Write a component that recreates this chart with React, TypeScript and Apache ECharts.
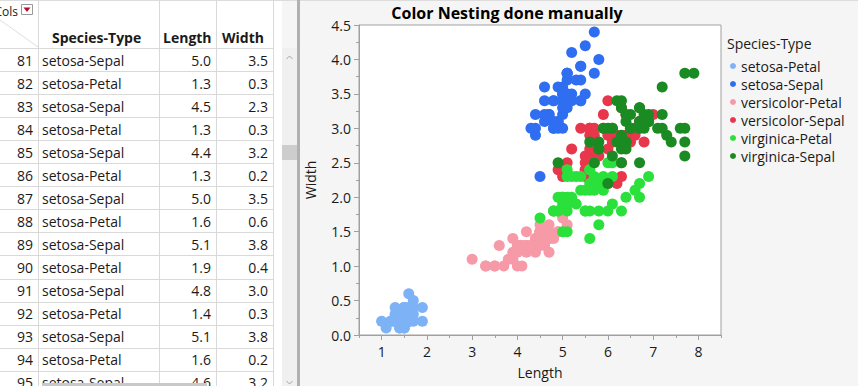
import React, { useEffect, useRef } from "react";
import * as echarts from "echarts";

// ---------- data ----------
const seriesNames = [
  "setosa-Petal",
  "setosa-Sepal",
  "versicolor-Petal",
  "versicolor-Sepal",
  "virginica-Petal",
  "virginica-Sepal",
];

const setosaPetal = [[1.4,0.2],[1.4,0.2],[1.3,0.2],[1.5,0.2],[1.4,0.2],[1.7,0.4],[1.4,0.3],[1.5,0.2],[1.4,0.2],[1.5,0.1],[1.5,0.2],[1.6,0.2],[1.4,0.1],[1.1,0.1],[1.2,0.2],[1.5,0.4],[1.3,0.4],[1.4,0.3],[1.7,0.3],[1.5,0.3],[1.7,0.2],[1.5,0.4],[1.0,0.2],[1.7,0.5],[1.9,0.2],[1.6,0.2],[1.6,0.4],[1.5,0.2],[1.4,0.2],[1.6,0.2],[1.6,0.2],[1.5,0.4],[1.5,0.1],[1.4,0.2],[1.5,0.2],[1.2,0.2],[1.3,0.2],[1.4,0.1],[1.3,0.2],[1.5,0.2],[1.3,0.3],[1.3,0.3],[1.3,0.2],[1.6,0.6],[1.9,0.4],[1.4,0.3],[1.6,0.2],[1.4,0.2],[1.5,0.2],[1.4,0.2]];
const setosaSepal = [[5.1,3.5],[4.9,3.0],[4.7,3.2],[4.6,3.1],[5.0,3.6],[5.4,3.9],[4.6,3.4],[5.0,3.4],[4.4,2.9],[4.9,3.1],[5.4,3.7],[4.8,3.4],[4.8,3.0],[4.3,3.0],[5.8,4.0],[5.7,4.4],[5.4,3.9],[5.1,3.5],[5.7,3.8],[5.1,3.8],[5.4,3.4],[5.1,3.7],[4.6,3.6],[5.1,3.3],[4.8,3.4],[5.0,3.0],[5.0,3.4],[5.2,3.5],[5.2,3.4],[4.7,3.2],[4.8,3.1],[5.4,3.4],[5.2,4.1],[5.5,4.2],[4.9,3.1],[5.0,3.2],[5.5,3.5],[4.9,3.6],[4.4,3.0],[5.1,3.4],[5.0,3.5],[4.5,2.3],[4.4,3.2],[5.0,3.5],[5.1,3.8],[4.8,3.0],[5.1,3.8],[4.6,3.2],[5.3,3.7],[5.0,3.3]];
const versicolorPetal = [[4.7,1.4],[4.5,1.5],[4.9,1.5],[4.0,1.3],[4.6,1.5],[4.5,1.3],[4.7,1.6],[3.3,1.0],[4.6,1.3],[3.9,1.4],[3.5,1.0],[4.2,1.5],[4.0,1.0],[4.7,1.4],[3.6,1.3],[4.4,1.4],[4.5,1.5],[4.1,1.0],[4.5,1.5],[3.9,1.1],[4.8,1.8],[4.0,1.3],[4.9,1.5],[4.7,1.2],[4.3,1.3],[4.4,1.4],[4.8,1.4],[5.0,1.7],[4.5,1.5],[3.5,1.0],[3.8,1.1],[3.7,1.0],[3.9,1.2],[5.1,1.6],[4.5,1.5],[4.5,1.6],[4.7,1.5],[4.4,1.3],[4.1,1.3],[4.0,1.3],[4.4,1.2],[4.6,1.4],[4.0,1.2],[3.3,1.0],[4.2,1.3],[4.2,1.2],[4.2,1.3],[4.3,1.3],[3.0,1.1],[4.1,1.3]];
const versicolorSepal = [[7.0,3.2],[6.4,3.2],[6.9,3.1],[5.5,2.3],[6.5,2.8],[5.7,2.8],[6.3,3.3],[4.9,2.4],[6.6,2.9],[5.2,2.7],[5.0,2.0],[5.9,3.0],[6.0,2.2],[6.1,2.9],[5.6,2.9],[6.7,3.1],[5.6,3.0],[5.8,2.7],[6.2,2.2],[5.6,2.5],[5.9,3.2],[6.1,2.8],[6.3,2.5],[6.1,2.8],[6.4,2.9],[6.6,3.0],[6.8,2.8],[6.7,3.0],[6.0,2.9],[5.7,2.6],[5.5,2.4],[5.5,2.4],[5.8,2.7],[6.0,2.7],[5.4,3.0],[6.0,3.4],[6.7,3.1],[6.3,2.3],[5.6,3.0],[5.5,2.5],[5.5,2.6],[6.1,3.0],[5.8,2.6],[5.0,2.3],[5.6,2.7],[5.7,3.0],[5.7,2.9],[6.2,2.9],[5.1,2.5],[5.7,2.8]];
const virginicaPetal = [[6.0,2.5],[5.1,1.9],[5.9,2.1],[5.6,1.8],[5.8,2.2],[6.6,2.1],[4.5,1.7],[6.3,1.8],[5.8,1.8],[6.1,2.5],[5.1,2.0],[5.3,1.9],[5.5,2.1],[5.0,2.0],[5.1,2.4],[5.3,2.3],[5.5,1.8],[6.7,2.2],[6.9,2.3],[5.0,1.5],[5.7,2.3],[4.9,2.0],[6.7,2.0],[4.9,1.8],[5.7,2.1],[6.0,1.8],[4.8,1.8],[4.9,1.8],[5.6,2.1],[5.8,1.6],[6.1,1.9],[6.4,2.0],[5.6,2.2],[5.1,1.5],[5.6,1.4],[6.1,2.3],[5.6,2.4],[5.5,1.8],[4.8,1.8],[5.4,2.1],[5.6,2.4],[5.1,2.3],[5.1,1.9],[5.9,2.3],[5.7,2.5],[5.2,2.3],[5.0,1.9],[5.2,2.0],[5.4,2.3],[5.1,1.8]];
const virginicaSepal = [[6.3,3.3],[5.8,2.7],[7.1,3.0],[6.3,2.9],[6.5,3.0],[7.6,3.0],[4.9,2.5],[7.3,2.9],[6.7,2.5],[7.2,3.6],[6.5,3.2],[6.4,2.7],[6.8,3.0],[5.7,2.5],[5.8,2.8],[6.4,3.2],[6.5,3.0],[7.7,3.8],[7.7,2.6],[6.0,2.2],[6.9,3.2],[5.6,2.8],[7.7,2.8],[6.3,2.7],[6.7,3.3],[7.2,3.2],[6.2,2.8],[6.1,3.0],[6.4,2.8],[7.2,3.0],[7.4,2.8],[7.9,3.8],[6.4,2.8],[6.3,2.8],[6.1,2.6],[7.7,3.0],[6.3,3.4],[6.4,3.1],[6.0,3.0],[6.9,3.1],[6.7,3.1],[6.9,3.1],[5.8,2.7],[6.8,3.2],[6.7,3.3],[6.7,3.0],[6.3,2.5],[6.5,3.0],[6.2,3.4],[5.9,3.0]];

const seriesData = [setosaPetal, setosaSepal, versicolorPetal, versicolorSepal, virginicaPetal, virginicaSepal];

const xTickValues = [1, 2, 3, 4, 5, 6, 7, 8];
const xMinorTickValues = [0.5, 1.5, 2.5, 3.5, 4.5, 5.5, 6.5, 7.5, 8.5];

// data table (rows 81..95)
const tableColumns = ["Species-Type", "Length", "Width"];
const tableRowNumbers = [81, 82, 83, 84, 85, 86, 87, 88, 89, 90, 91, 92, 93, 94, 95];
const tableSpecies = ["setosa-Sepal","setosa-Petal","setosa-Sepal","setosa-Petal","setosa-Sepal","setosa-Petal","setosa-Sepal","setosa-Petal","setosa-Sepal","setosa-Petal","setosa-Sepal","setosa-Petal","setosa-Sepal","setosa-Petal","setosa-Sepal"];
const tableLength = [5.0, 1.3, 4.5, 1.3, 4.4, 1.3, 5.0, 1.6, 5.1, 1.9, 4.8, 1.4, 5.1, 1.6, 4.6];
const tableWidth = [3.5, 0.3, 2.3, 0.3, 3.2, 0.2, 3.5, 0.6, 3.8, 0.4, 3.0, 0.3, 3.8, 0.2, 3.2];

// ---------- styles ----------
const FONT = "'Open Sans', 'Noto Sans', sans-serif";
const COLORS = ["#7db2f6", "#2f6ef0", "#f59aa6", "#e8364b", "#2ae13b", "#1a8b22"];
const TEXT = "#1a1a1a";
const GRIDLINE = "#d9d9d9";

function buildTable(): any[] {
  const els: any[] = [];
  const headerH = 48;
  const rowH = 23.05;
  const colX = [38, 159, 216, 273];
  // table background
  els.push({ type: "rect", shape: { x: 0, y: 0, width: 282, height: 386 }, style: { fill: "#ffffff" }, z: 0 });
  // top border strip
  els.push({ type: "rect", shape: { x: 0, y: 0, width: 858, height: 1 }, style: { fill: "#dcdcdc" }, z: 5 });
  // horizontal grid lines
  for (let i = 0; i <= tableRowNumbers.length; i++) {
    const y = Math.round(headerH + i * rowH) + 0.5;
    els.push({ type: "line", shape: { x1: 0, y1: y, x2: colX[3], y2: y }, style: { stroke: GRIDLINE, lineWidth: 1 }, z: 1 });
  }
  // vertical lines
  colX.forEach((x) => {
    els.push({ type: "line", shape: { x1: x + 0.5, y1: 0, x2: x + 0.5, y2: 386 }, style: { stroke: GRIDLINE, lineWidth: 1 }, z: 1 });
  });
  // diagonal in corner
  els.push({ type: "line", shape: { x1: 0, y1: 20, x2: 38, y2: 47 }, style: { stroke: "#dedede", lineWidth: 1 }, z: 1 });
  // Cols + dropdown
  els.push({ type: "text", x: 18, y: 11, style: { text: "Cols", font: `12px ${FONT}`, fill: TEXT, align: "right", verticalAlign: "middle" }, z: 3 });
  els.push({ type: "rect", shape: { x: 21.5, y: 4.5, width: 11, height: 10 }, style: { fill: "#ffffff", stroke: "#9a9a9a", lineWidth: 1 }, z: 3 });
  els.push({ type: "polygon", shape: { points: [[23.5, 7.5], [30.5, 7.5], [27, 12]] }, style: { fill: "#b0102a" }, z: 4 });
  // headers
  const headerX = [52, 163, 222];
  tableColumns.forEach((c, i) => {
    els.push({ type: "text", x: headerX[i], y: 37, style: { text: c, font: `bold 14px ${FONT}`, fill: TEXT, align: "left", verticalAlign: "middle" }, z: 3 });
  });
  // rows
  tableRowNumbers.forEach((n, i) => {
    const cy = headerH + i * rowH + rowH / 2 + 0.5;
    els.push({ type: "text", x: 33, y: cy, style: { text: String(n), font: `14px ${FONT}`, fill: TEXT, align: "right", verticalAlign: "middle" }, z: 3 });
    els.push({ type: "text", x: 42, y: cy, style: { text: tableSpecies[i], font: `14px ${FONT}`, fill: TEXT, align: "left", verticalAlign: "middle" }, z: 3 });
    els.push({ type: "text", x: 211, y: cy, style: { text: tableLength[i].toFixed(1), font: `14px ${FONT}`, fill: TEXT, align: "right", verticalAlign: "middle" }, z: 3 });
    els.push({ type: "text", x: 268, y: cy, style: { text: tableWidth[i].toFixed(1), font: `14px ${FONT}`, fill: TEXT, align: "right", verticalAlign: "middle" }, z: 3 });
  });
  // vertical scrollbar
  els.push({ type: "rect", shape: { x: 282, y: 48, width: 15, height: 338 }, style: { fill: "#f0f0f0" }, z: 2 });
  els.push({ type: "rect", shape: { x: 282, y: 145, width: 15, height: 15 }, style: { fill: "#cdcdcd" }, z: 3 });
  els.push({ type: "polyline", shape: { points: [[286.5, 59], [289.5, 56], [292.5, 59]] }, style: { stroke: "#a6a6a6", lineWidth: 1, fill: null }, z: 3 });
  els.push({ type: "polyline", shape: { points: [[286.5, 381], [289.5, 384], [292.5, 381]] }, style: { stroke: "#a6a6a6", lineWidth: 1, fill: null }, z: 3 });
  // horizontal scroll thumb at bottom
  els.push({ type: "rect", shape: { x: 42, y: 383, width: 165, height: 3 }, style: { fill: "#c8c8c8" }, z: 4 });
  // panel divider
  els.push({ type: "rect", shape: { x: 297, y: 0, width: 3, height: 386 }, style: { fill: "#b0b0b0" }, z: 5 });
  return els;
}

export default function App() {
  const ref = useRef<HTMLDivElement>(null);

  useEffect(() => {
    if (!ref.current) return;
    const chart = echarts.init(ref.current, null, { renderer: "svg" });
    const axisGray = "#a0a0a0";
    const option: any = {
      animation: false,
      backgroundColor: "#f5f5f5",
      textStyle: { fontFamily: FONT },
      grid: {
        left: 359,
        top: 25,
        width: 362,
        height: 310,
        show: true,
        backgroundColor: "#ffffff",
        borderColor: axisGray,
        borderWidth: 1,
      },
      xAxis: [
        {
          type: "value",
          min: 0.5,
          max: 8.5,
          name: "Length",
          nameLocation: "middle",
          nameGap: 30,
          nameTextStyle: { fontSize: 14, color: TEXT, fontFamily: FONT },
          axisLine: { show: true, lineStyle: { color: axisGray } },
          axisTick: { show: true, length: 5, customValues: xTickValues, lineStyle: { color: axisGray } },
          axisLabel: { customValues: xTickValues, fontSize: 14, color: TEXT, margin: 9, fontFamily: FONT },
          splitLine: { show: false },
        },
        {
          type: "value",
          min: 0.5,
          max: 8.5,
          position: "bottom",
          axisLine: { show: false },
          axisTick: { show: true, length: 3, customValues: xMinorTickValues, lineStyle: { color: axisGray } },
          axisLabel: { show: false },
          splitLine: { show: false },
        },
      ],
      yAxis: {
        type: "value",
        min: 0,
        max: 4.5,
        interval: 0.5,
        name: "Width",
        nameLocation: "middle",
        nameGap: 42,
        nameTextStyle: { fontSize: 14, color: TEXT, fontFamily: FONT },
        axisLine: { show: true, lineStyle: { color: axisGray } },
        axisTick: { show: true, length: 5, lineStyle: { color: axisGray } },
        minorTick: { show: true, splitNumber: 2, length: 3, lineStyle: { color: axisGray } },
        axisLabel: { fontSize: 14, color: TEXT, margin: 8, fontFamily: FONT, formatter: (v: number) => v.toFixed(1) },
        splitLine: { show: false },
        minorSplitLine: { show: false },
      },
      legend: {
        data: seriesNames,
        orient: "vertical",
        left: 730,
        top: 59,
        padding: 0,
        icon: "circle",
        itemWidth: 6,
        itemHeight: 6,
        itemGap: 4,
        selectedMode: false,
        textStyle: { fontSize: 14, color: TEXT, fontFamily: FONT, padding: [0, 0, 0, 0] },
      },
      graphic: {
        elements: [
          ...buildTable(),
          {
            type: "text",
            x: 507,
            y: 13,
            style: { text: "Color Nesting done manually", font: `bold 16px ${FONT}`, fill: "#000", align: "center", verticalAlign: "middle" },
            z: 10,
          },
          {
            type: "text",
            x: 727,
            y: 43,
            style: { text: "Species-Type", font: `14px ${FONT}`, fill: TEXT, align: "left", verticalAlign: "middle" },
            z: 10,
          },
        ],
      },
      series: seriesNames.map((name, i) => ({
        name,
        type: "scatter",
        xAxisIndex: 0,
        yAxisIndex: 0,
        data: seriesData[i],
        symbol: "circle",
        symbolSize: 11,
        itemStyle: { color: COLORS[i], opacity: 1 },
        emphasis: { disabled: true },
      })),
    };
    chart.setOption(option);
    return () => chart.dispose();
  }, []);

  return <div ref={ref} style={{ position: "absolute", left: 0, top: 0, width: 858, height: 386 }} />;
}
